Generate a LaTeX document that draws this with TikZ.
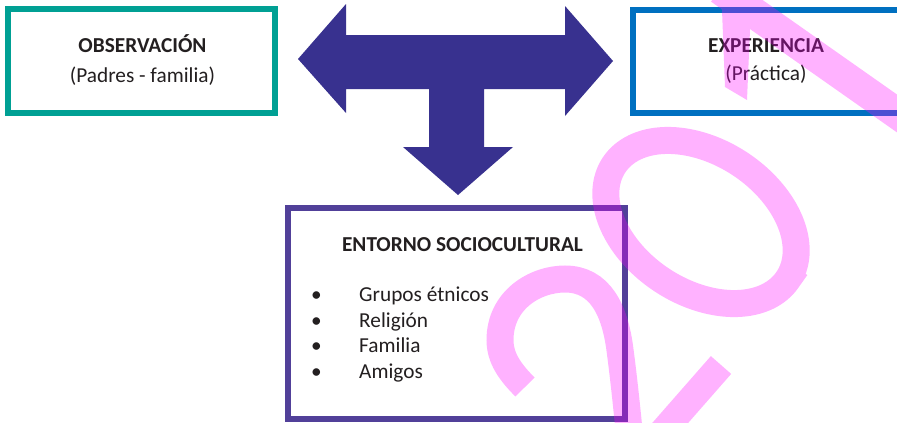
\documentclass[tikz,border=0pt]{standalone}
\usepackage{fontspec}
\setmainfont{Carlito}
\definecolor{tealc}{RGB}{0,160,148}
\definecolor{bluec}{RGB}{0,112,192}
\definecolor{purpc}{RGB}{81,64,153}
\definecolor{arrowc}{RGB}{56,49,143}
\definecolor{txtc}{RGB}{35,31,32}
\definecolor{wmark}{RGB}{255,0,255}
\tikzset{
  boxstyle/.style={draw, line width=6pt, rectangle, inner sep=0pt},
  lbl/.style={anchor=base, inner sep=0pt, text=txtc, font=\fontsize{21.3}{25}\selectfont},
  lblb/.style={lbl, font=\fontsize{21.3}{25}\selectfont\bfseries},
  item/.style={anchor=base west, inner sep=0pt, text=txtc, font=\fontsize{21.3}{25}\selectfont},
  bul/.style={anchor=base, inner sep=0pt, text=txtc, font=\fontsize{21.3}{25}\selectfont},
  wm/.style={draw=wmark, line width=27pt, line cap=butt}
}
\begin{document}
\begin{tikzpicture}[x=1pt,y=-1pt]
\useasboundingbox (0,0) rectangle (897,423);
\clip (0,0) rectangle (897,423);
\fill[white] (0,0) rectangle (897,423);
% boxes
\node[boxstyle, draw=tealc, minimum width=267pt, minimum height=104pt] (obs) at (141.5,61) {};
\node[boxstyle, draw=bluec, minimum width=277pt, minimum height=103pt] (exp) at (771.5,61.5) {};
\node[boxstyle, draw=purpc, minimum width=337pt, minimum height=211pt] (ent) at (456.5,313.5) {};
% texts
\node[lblb] (obsT) at (142.5,52.5) {OBSERVACIÓN};
\node[lbl] (obsS) at (142.5,82) {(Padres - familia)};
\node[lblb] (expT) at (766,52.5) {EXPERIENCIA};
\node[lbl] (expS) at (766,80.5) {(Práctica)};
\node[lblb] (entT) at (462.5,251.5) {ENTORNO SOCIOCULTURAL};
\node[bul] (b1) at (316.5,301.5) {•};
\node[bul] (b2) at (316.5,327) {•};
\node[bul] (b3) at (316.5,352.5) {•};
\node[bul] (b4) at (316.5,378.5) {•};
\node[item] (i1) at (359,301.5) {Grupos étnicos};
\node[item] (i2) at (359,327) {Religión};
\node[item] (i3) at (359,352.5) {Familia};
\node[item] (i4) at (359,378.5) {Amigos};
% T-shaped arrow
\fill[arrowc] (298,59) -- (346,4) -- (346,35) -- (565,35) -- (565,6) -- (613,61)
  -- (565,116) -- (565,89) -- (484,89) -- (484,147) -- (513,147) -- (458,195)
  -- (403,147) -- (429,147) -- (429,89) -- (346,89) -- (346,113) -- cycle;
% watermark
\begin{scope}[transparency group, opacity=0.3]
  \draw[wm] (525,387) .. controls (510,372) and (500,358) .. (500,340)
     .. controls (500,300) and (535,279) .. (565,279)
     .. controls (600,279) and (615,310) .. (620,350)
     .. controls (624,380) and (627,410) .. (630,440);
  \draw[wm] (721,365) -- (650,446);
  \draw[wm] plot[domain=0:360, samples=90, smooth cycle]
     ({701 + 104*cos(\x)*cos(33) - 70*sin(\x)*sin(33)},
      {222 + 104*cos(\x)*sin(33) + 70*sin(\x)*cos(33)});
  \draw[wm, line width=31pt] (720,-11) -- (912,124);
  \fill[wmark] (714,-5) -- (722,10) -- (725,87) -- (747,100) -- (750,30) -- (752,-5) -- cycle;
\end{scope}
\end{tikzpicture}
\end{document}
